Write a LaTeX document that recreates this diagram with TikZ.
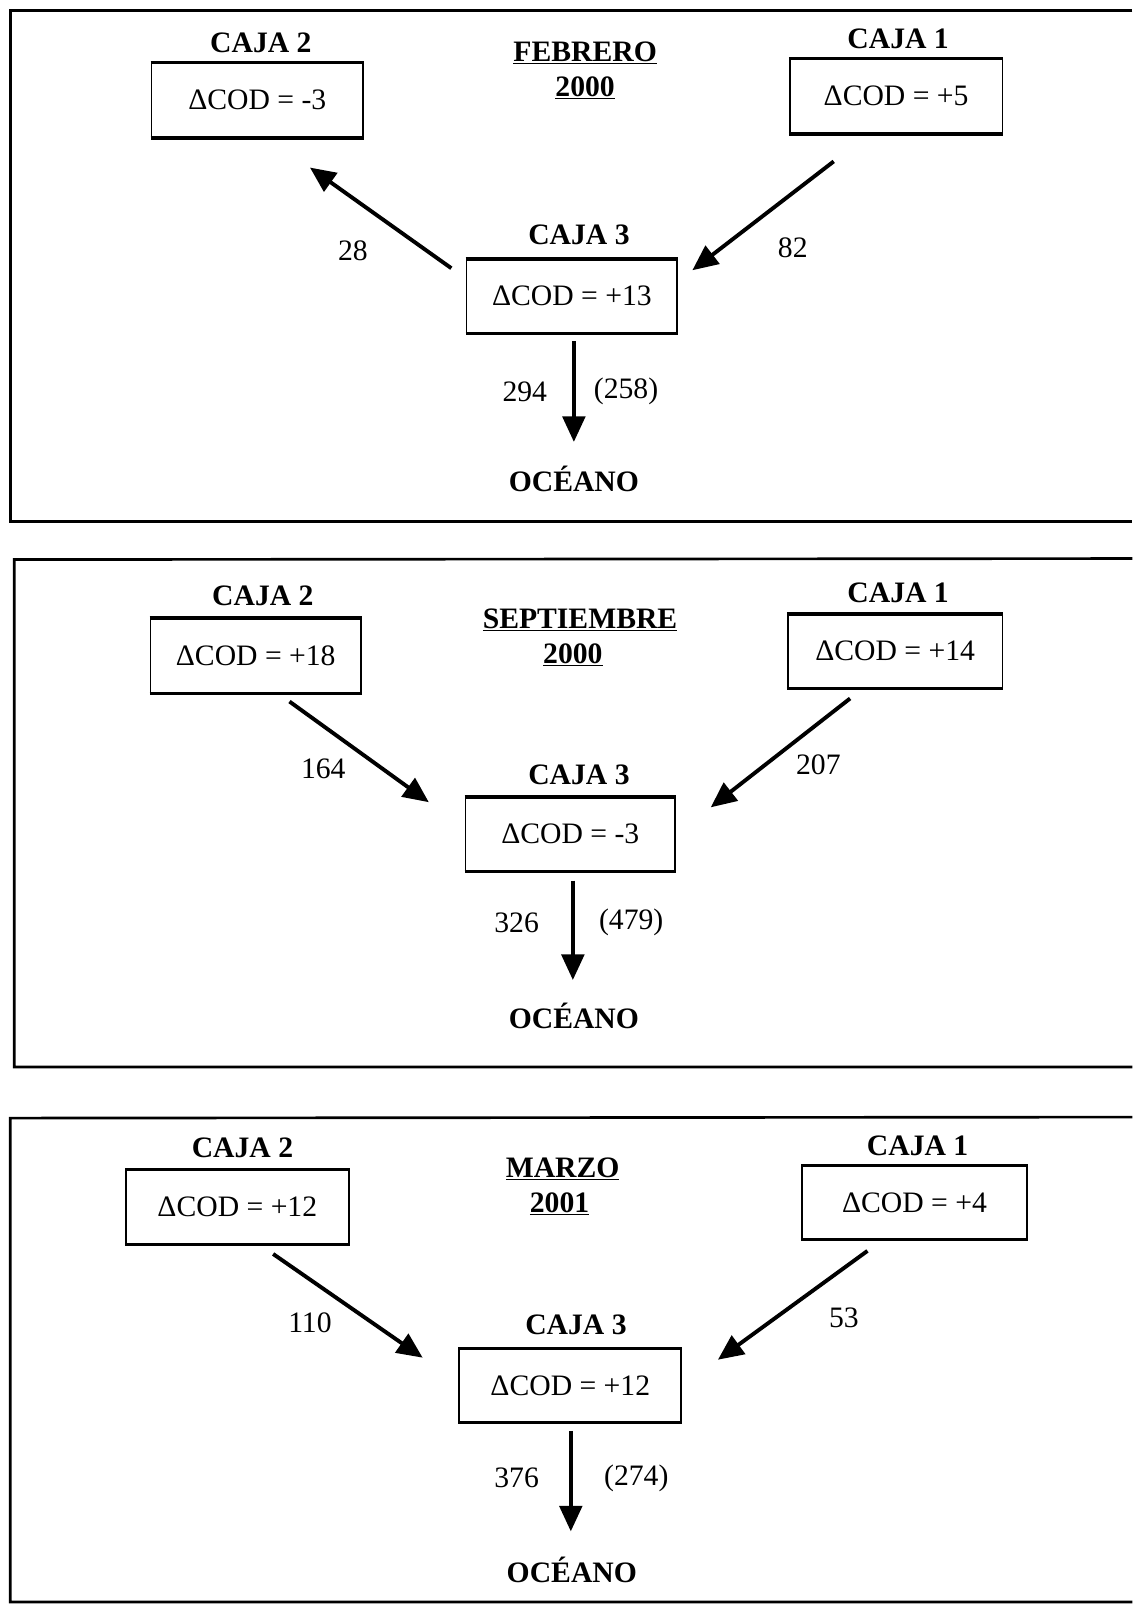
\documentclass[tikz,border=0pt]{standalone}
\usepackage{fontspec}
\setmainfont{Liberation Serif}
\usetikzlibrary{arrows.meta,calc}
\tikzset{
  txt/.style={font=\fontsize{29}{34}\selectfont, inner sep=0pt},
  lbl/.style={font=\fontsize{29}{34}\selectfont\bfseries, inner sep=0pt},
  boxn/.style={draw, line width=1.6pt, rectangle, inner sep=0pt, font=\fontsize{29}{34}\selectfont},
  flow/.style={line width=3.8pt, -{Triangle[length=25pt,width=22pt]}},
  frame/.style={line width=2.6pt},
  rim/.style={line width=3.4pt},
}
\begin{document}
\begin{tikzpicture}[x=1pt,y=-1pt]
\useasboundingbox (0,0) rectangle (1107,1568);

% ================= Panel 1 : FEBRERO 2000 =================
\draw[frame] (1107,10) -- (10,10) -- (10,510) -- (1107,510);
\node[lbl] (p1t2) at (255,42) {CAJA 2};
\node[boxn, minimum width=207pt, minimum height=72pt] (p1c2) at (251.5,98) {ΔCOD = -3};
\node[lbl] (p1m) at (572,52) {\underline{FEBRERO}};
\node[lbl] (p1y) at (572,86) {\underline{2000}};
\node[lbl] (p1t1) at (878,38) {CAJA 1};
\node[boxn, minimum width=208pt, minimum height=72pt] (p1c1) at (876,94) {ΔCOD = +5};
\node[lbl] (p1t3) at (566,230) {CAJA 3};
\node[boxn, minimum width=206pt, minimum height=71pt] (p1c3) at (559,289.5) {ΔCOD = +13};
\node[lbl] (p1o) at (561,468) {OCÉANO};
\draw[flow] ([shift={(-14,9)}]p1c3.north west) -- ([shift={(51.5,29)}]p1c2.south);
\draw[flow] ([shift={(-61,27)}]p1c1.south) -- ([shift={(14,11)}]p1c3.north east);
\draw[flow] ([shift={(2,8)}]p1c3.south) -- ([shift={(0,-36)}]p1o.center);
\node[txt] (p1n28) at (345,245) {28};
\node[txt] (p1n82) at (775,242) {82};
\node[txt] (p1n294) at (513,383) {294};
\node[txt] (p1n258) at (612,383) {(258)};

% ================= Panel 2 : SEPTIEMBRE 2000 =================
\draw[frame] (1107,546) -- (14,547) -- (14,1043) -- (1107,1043);
\node[lbl] (p2t2) at (257,582) {CAJA 2};
\node[boxn, minimum width=206pt, minimum height=72pt] (p2c2) at (250,641) {ΔCOD = +18};
\node[lbl] (p2m) at (567,606) {\underline{SEPTIEMBRE}};
\node[lbl] (p2y) at (560,640) {\underline{2000}};
\node[lbl] (p2t1) at (878,580) {CAJA 1};
\node[boxn, minimum width=210pt, minimum height=71pt] (p2c1) at (875,636.5) {ΔCOD = +14};
\node[lbl] (p2t3) at (566,757) {CAJA 3};
\node[boxn, minimum width=205pt, minimum height=71pt] (p2c3) at (557.5,815.5) {ΔCOD = -3};
\node[lbl] (p2o) at (561,993) {OCÉANO};
\draw[flow] ([shift={(33,8)}]p2c2.south) -- ([shift={(-35,5)}]p2c3.north west);
\draw[flow] ([shift={(-44,10)}]p2c1.south) -- ([shift={(34,10)}]p2c3.north east);
\draw[flow] ([shift={(2.5,9)}]p2c3.south) -- ([shift={(-1,-35)}]p2o.center);
\node[txt] (p2n164) at (316,752) {164};
\node[txt] (p2n207) at (800,748) {207};
\node[txt] (p2n326) at (505,902) {326};
\node[txt] (p2n479) at (617,902) {(479)};

% ================= Panel 3 : MARZO 2001 =================
\draw[frame] (1107,1092) -- (10,1093) -- (10,1566) -- (1107,1566);
\node[lbl] (p3t2) at (237,1122) {CAJA 2};
\node[boxn, minimum width=218pt, minimum height=72pt] (p3c2) at (232,1180) {ΔCOD = +12};
\node[lbl] (p3m) at (550,1143) {\underline{MARZO}};
\node[lbl] (p3y) at (547,1177) {\underline{2001}};
\node[lbl] (p3t1) at (897,1120) {CAJA 1};
\node[boxn, minimum width=220pt, minimum height=71pt] (p3c1) at (894,1175.5) {ΔCOD = +4};
\node[lbl] (p3t3) at (563,1295) {CAJA 3};
\node[boxn, minimum width=217pt, minimum height=71pt] (p3c3) at (557.5,1354.5) {ΔCOD = +12};
\node[lbl] (p3o) at (559,1535) {OCÉANO};
\draw[flow] ([shift={(35,9)}]p3c2.south) -- ([shift={(-35,9)}]p3c3.north west);
\draw[flow] ([shift={(-46,11)}]p3c1.south) -- ([shift={(35,11)}]p3c3.north east);
\draw[flow] ([shift={(0.5,8)}]p3c3.south) -- ([shift={(-1,-38)}]p3o.center);
\node[txt] (p3n110) at (303,1293) {110};
\node[txt] (p3n53) at (825,1288) {53};
\node[txt] (p3n376) at (505,1445) {376};
\node[txt] (p3n274) at (622,1445) {(274)};

% thicker top and bottom rims of the boxes
\foreach \b in {p1c1,p1c2,p1c3,p2c1,p2c2,p2c3,p3c1,p3c2,p3c3}{
  \draw[rim] (\b.north west) -- (\b.north east);
  \draw[rim] (\b.south west) -- (\b.south east);
}
\end{tikzpicture}
\end{document}
